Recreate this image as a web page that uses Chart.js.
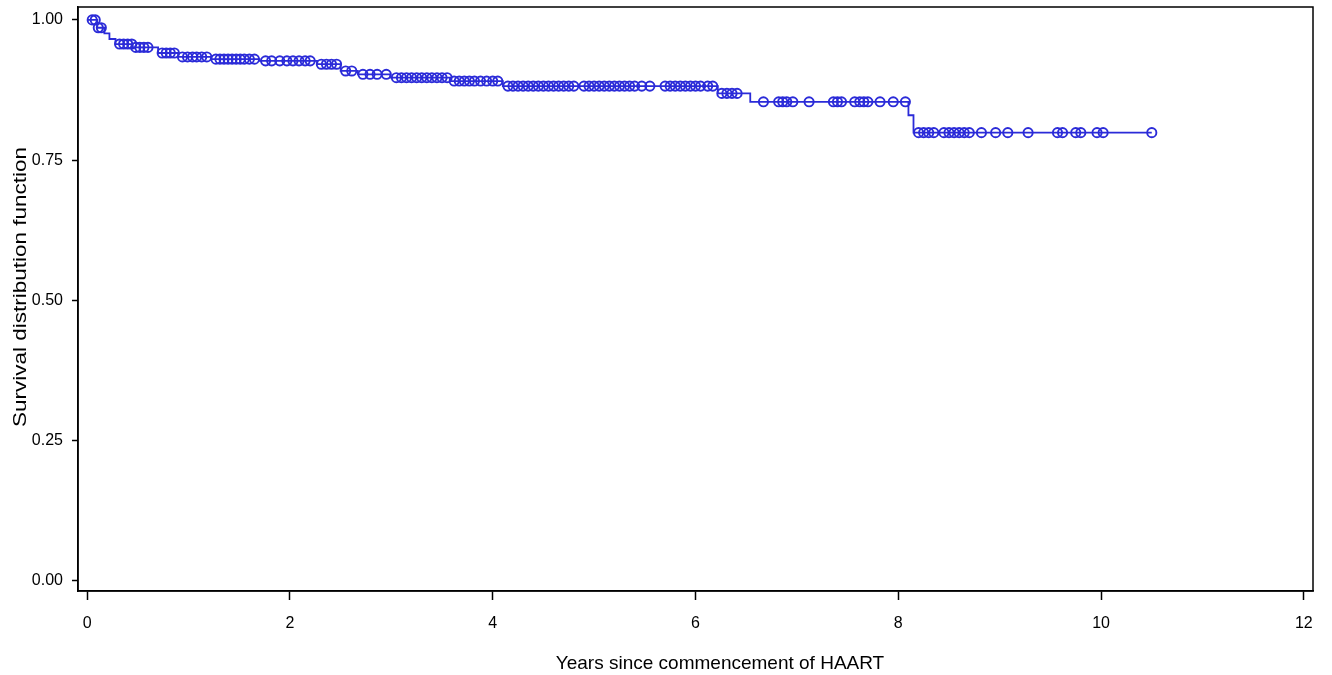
<!DOCTYPE html>
<html>
<head>
<meta charset="utf-8">
<script src="https://cdn.jsdelivr.net/npm/chart.js@4.4.1/dist/chart.umd.min.js"></script>
<style>
html,body{margin:0;padding:0;background:#fff;}
#wrap{width:1332px;height:675px;}
</style>
</head>
<body>
<div id="wrap"><canvas id="c" width="1332" height="675"></canvas></div>
<script>
// Kaplan-Meier step data (time of drop, survival after drop)
const eventTimes = [0, 0.10, 0.17, 0.22, 0.28, 0.45, 0.70, 0.90, 1.22, 1.70, 2.27, 2.50, 2.67, 2.99, 3.58, 4.10, 6.22, 6.54, 8.10, 8.15, 10.50];
const survival   = [1.000, 0.986, 0.976, 0.966, 0.957, 0.951, 0.941, 0.934, 0.930, 0.927, 0.921, 0.909, 0.903, 0.897, 0.891, 0.882, 0.869, 0.854, 0.830, 0.799, 0.799];
// Censoring times
const censorTimes = [
  0.05, 0.08, 0.11, 0.14,
  0.32, 0.36, 0.40, 0.44, 0.48, 0.52, 0.56, 0.60,
  0.74, 0.78, 0.82, 0.86,
  0.94, 0.99, 1.04, 1.08, 1.13, 1.18,
  1.27, 1.31, 1.35, 1.39, 1.43, 1.47, 1.51, 1.55, 1.60, 1.65,
  1.76, 1.82, 1.90, 1.97, 2.03, 2.09, 2.15, 2.20,
  2.31, 2.36, 2.41, 2.46, 2.55, 2.61,
  2.72, 2.79, 2.86, 2.95,
  3.05, 3.10, 3.15, 3.20, 3.25, 3.30, 3.35, 3.40, 3.45, 3.50, 3.55,
  3.62, 3.67, 3.72, 3.77, 3.82, 3.88, 3.94, 4.00, 4.05,
  4.15, 4.20, 4.25, 4.30, 4.35, 4.40, 4.45, 4.50, 4.55, 4.60, 4.65, 4.70, 4.75, 4.80,
  4.90, 4.95, 5.00, 5.05, 5.10, 5.15, 5.20, 5.25, 5.30, 5.35, 5.40, 5.47,
  5.55, 5.70, 5.75, 5.80, 5.85, 5.90, 5.95, 6.00, 6.05, 6.12, 6.17,
  6.26, 6.31, 6.36, 6.41,
  6.67, 6.82, 6.86, 6.90, 6.96, 7.12, 7.36, 7.40, 7.44, 7.57, 7.62, 7.66, 7.70, 7.82, 7.95, 8.07,
  8.20, 8.25, 8.30, 8.35, 8.45, 8.50, 8.55, 8.60, 8.65, 8.70, 8.82, 8.96, 9.08, 9.28,
  9.57, 9.62, 9.75, 9.80, 9.96, 10.02, 10.50
];
const xTicks = [0, 2, 4, 6, 8, 10, 12];
const yTicks = [0, 0.25, 0.5, 0.75, 1.0];
const xTitle = 'Years since commencement of HAART';
const yTitle = 'Survival distribution function';
const blue = '#2b2bd8';
const FONT = 'Liberation Sans, Arial, sans-serif';

function survAt(t) {
  let s = survival[0];
  for (let i = 0; i < eventTimes.length; i++) {
    if (eventTimes[i] <= t) s = survival[i];
  }
  return s;
}
const curve = eventTimes.map((t, i) => ({x: t, y: survival[i]}));
const censored = censorTimes.map(t => ({x: t, y: survAt(t)}));

const framePlugin = {
  id: 'frame',
  afterDraw(chart) {
    const {ctx, chartArea: a} = chart;
    ctx.save();
    ctx.strokeStyle = '#000';
    ctx.lineWidth = 1.5;
    ctx.strokeRect(a.left, a.top, a.right - a.left, a.bottom - a.top);
    // axis titles
    ctx.fillStyle = '#000';
    ctx.font = '19px ' + FONT;
    ctx.textAlign = 'center';
    ctx.textBaseline = 'alphabetic';
    ctx.fillText(xTitle, 720, 669);
    ctx.translate(26, 287);
    ctx.rotate(-Math.PI / 2);
    const w = ctx.measureText(yTitle).width;
    ctx.scale(280 / w, 1);
    ctx.fillText(yTitle, 0, 0);
    ctx.restore();
  }
};

new Chart(document.getElementById('c'), {
  type: 'scatter',
  data: {
    datasets: [
      {
        data: curve,
        showLine: true,
        stepped: 'before',
        borderColor: blue,
        borderWidth: 1.8,
        pointRadius: 0,
        fill: false
      },
      {
        data: censored,
        showLine: false,
        pointStyle: 'circle',
        pointRadius: 4.6,
        pointBorderWidth: 1.9,
        pointBorderColor: blue,
        pointBackgroundColor: 'rgba(255,255,255,0)'
      }
    ]
  },
  options: {
    responsive: false,
    animation: false,
    devicePixelRatio: 1,
    layout: {padding: {top: 7, right: 19, left: 0, bottom: 0}},
    plugins: {legend: {display: false}, tooltip: {enabled: false}},
    scales: {
      x: {
        type: 'linear',
        min: -0.09,
        max: 12.09,
        afterBuildTicks(s) { s.ticks = xTicks.map(v => ({value: v})); },
        afterFit(s) { s.height = 84; s.paddingLeft = 0; s.paddingRight = 0; },
        grid: {display: true, drawOnChartArea: false, drawTicks: true, tickLength: 9, tickColor: '#000', tickWidth: 1.5},
        border: {display: true, color: '#000', width: 1.5},
        ticks: {color: '#000', font: {family: FONT, size: 16}, padding: 14, maxRotation: 0,
          callback: v => String(v)},
        title: {display: false}
      },
      y: {
        type: 'linear',
        min: -0.018,
        max: 1.023,
        afterBuildTicks(s) { s.ticks = yTicks.map(v => ({value: v})); },
        afterFit(s) { s.width = 78; s.paddingTop = 0; s.paddingBottom = 0; },
        grid: {display: true, drawOnChartArea: false, drawTicks: true, tickLength: 6, tickColor: '#000', tickWidth: 1.5},
        border: {display: true, color: '#000', width: 1.5},
        ticks: {color: '#000', font: {family: FONT, size: 16}, padding: 9,
          callback: v => Number(v).toFixed(2)},
        title: {display: false}
      }
    }
  },
  plugins: [framePlugin]
});
</script>
</body>
</html>
